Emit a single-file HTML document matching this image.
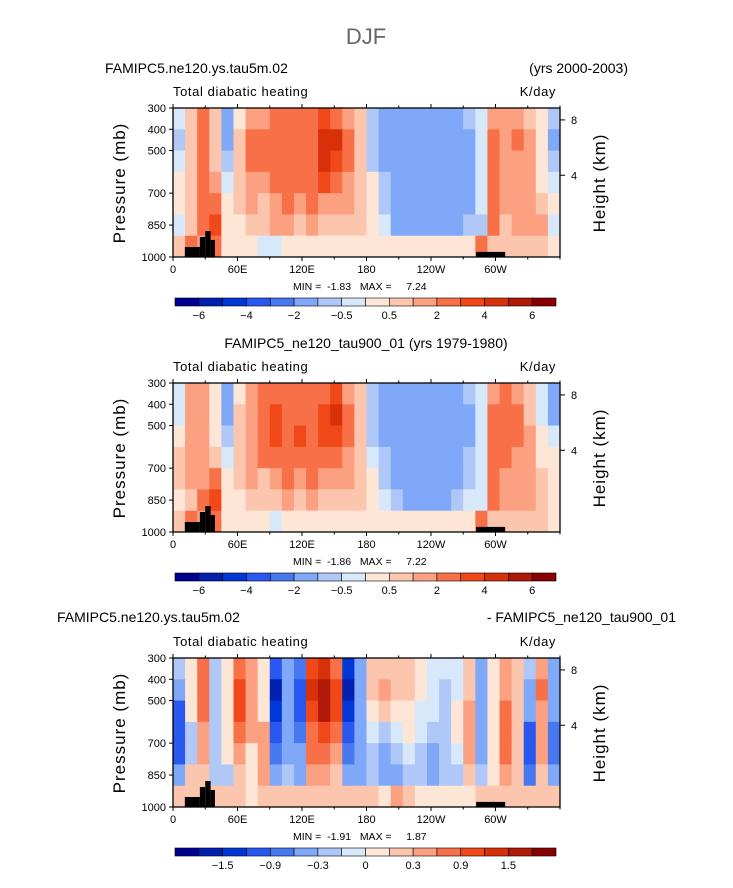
<!DOCTYPE html>
<html><head><meta charset="utf-8"><style>
html,body{margin:0;padding:0;background:#fff}
svg{display:block;font-family:"Liberation Sans",sans-serif}
</style></head><body>
<svg id="fig" width="733" height="888" viewBox="0 0 733 888">
<text x="366" y="44" text-anchor="middle" font-size="22" fill="#666" font-weight="300">DJF</text>
<text x="105" y="73" font-size="14">FAMIPC5.ne120.ys.tau5m.02</text>
<text x="628" y="73" font-size="14" text-anchor="end">(yrs 2000-2003)</text>
<text x="366" y="348" font-size="14" text-anchor="middle">FAMIPC5_ne120_tau900_01 (yrs 1979-1980)</text>
<text x="57" y="622" font-size="14">FAMIPC5.ne120.ys.tau5m.02</text>
<text x="676" y="622" font-size="14" text-anchor="end">- FAMIPC5_ne120_tau900_01</text>
</svg>
<script>
// ---- data ----
const lonEdges = [0,11.25,22.5,33.75,45,56.25,67.5,78.75,90,101.25,112.5,123.75,135,146.25,157.5,168.75,180,191.25,202.5,213.75,225,236.25,247.5,258.75,270,281.25,292.5,303.75,315,326.25,337.5,348.75,360];
const presEdges = [300,400,500,600,700,800,900,1000];
const levels1 = [-6,-5,-4,-3,-2,-1,-0.5,0,0.5,1,2,3,4,5,6];
const cbLabels1 = ["-6","","-4","","-2","","-0.5","","0.5","","2","","4","","6"];
const levels3 = [-1.8,-1.5,-1.2,-0.9,-0.6,-0.3,-0.15,0,0.15,0.3,0.6,0.9,1.2,1.5,1.8];
const cbLabels3 = ["","-1.5","","-0.9","","-0.3","","0","","0.3","","0.9","","1.5",""];
const palette = ["#00008f","#0020b0","#0038d8","#2858f0","#4878f0","#80a8f8","#b0c8f8","#d8e8fb","#fde6d6","#fcc6ae","#fba080","#f87048","#f04818","#d83008","#b01808","#880000"];
const xTickLon = [0,60,120,180,240,300];
const xTickLbl = ["0","60E","120E","180","120W","60W"];
const yTickP = [300,400,500,700,850,1000];
const hTickP = [356,616];
const hTickLbl = ["8","4"];
const data1 = [
[-0.3,0.7,2.5,0.7,-1.5,0.3,1.5,1.5,2,2.5,2,2.5,3.5,2.5,1.5,0.7,-0.7,-1.5,-1.5,-1.5,-1.5,-1.5,-1.5,-1.5,-0.7,-0.3,1.5,1.5,1.5,0.7,0.3,-0.7],
[-0.7,0.7,2.5,0.7,-1.5,0.7,2,2,2,2.5,2.5,2.5,4.5,4,2,0.7,-0.7,-1.5,-1.5,-1.5,-1.5,-1.5,-1.5,-1.5,-1.5,-0.3,2,1.5,2,1.5,0.3,-1.5],
[-0.3,0.7,2.5,0.7,-0.7,0.7,2,2,2,2.5,2.5,2.5,4.5,3.5,2,0.7,-0.7,-1.5,-1.5,-1.5,-1.5,-1.5,-1.5,-1.5,-1.5,-0.3,2,1.5,1.5,1.5,0.3,-0.7],
[0.3,0.7,2.5,1.5,-0.3,0.7,1.5,1.5,2,2.5,2,2.5,3,2.5,1.5,0.7,0.3,-0.7,-1.5,-1.5,-1.5,-1.5,-1.5,-1.5,-1.5,-0.3,2,1.5,1.5,1.5,0.3,-0.3],
[0.3,0.7,2.5,2.5,0.3,0.7,1.5,0.7,1.5,2.5,1.5,2,1.5,1.5,1.5,0.7,0.3,-0.7,-1.5,-1.5,-1.5,-1.5,-1.5,-1.5,-1.5,-0.3,2.5,1.5,1.5,1.5,0.7,0.3],
[-0.3,0.7,2.5,3.5,0.3,0.3,0.7,0.7,1,1.5,0.7,1.5,0.7,0.7,0.7,0.7,0.3,-0.3,-1.5,-1.5,-1.5,-1.5,-1.5,-1.5,-0.7,-0.7,2.5,0.7,1.5,1.5,1.5,-0.3],
[0.7,2.5,1.5,2,0.3,0.3,0.3,-0.3,-0.3,0.3,0.3,0.3,0.3,0.3,0.3,0.3,0.3,0.3,0.3,0.3,0.3,0.3,0.3,0.3,0.3,2.5,0.7,0.7,0.7,0.7,0.7,0.3]];
const data2 = [
[-0.3,1.5,1.5,0.3,-1.5,0.3,1.5,2,2.5,2.5,2,2.5,2.5,3,1.5,0.7,-0.7,-1.5,-1.5,-1.5,-1.5,-1.5,-1.5,-1.5,-0.7,-0.3,1.5,2,1.5,0.7,-0.3,-1.5],
[-0.3,1.5,1.5,0.3,-1.5,0.7,1.5,2.5,3.5,2.5,2.5,2.5,3,4,2,0.7,-0.7,-1.5,-1.5,-1.5,-1.5,-1.5,-1.5,-1.5,-1.5,-0.3,2.5,2.5,2,0.7,-0.3,-1.5],
[0.3,1.5,1.5,0.3,-0.7,0.7,1.5,2.5,3,2.5,3,2.5,3,3.5,2,0.7,-0.7,-1.5,-1.5,-1.5,-1.5,-1.5,-1.5,-1.5,-1.5,-0.3,2.5,2,2,1.5,0.3,-0.3],
[0.7,1.5,1.5,0.7,-0.3,0.7,1.5,2,2.5,2.5,2.5,2,2.5,2.5,1.5,0.7,-0.3,-0.7,-1.5,-1.5,-1.5,-1.5,-1.5,-1.5,-0.7,-0.3,2,2,1.5,1.5,0.3,0.3],
[0.7,1.5,1.5,2,0.3,0.7,1.5,0.7,1.5,2,1.5,2,1.5,1.5,1.5,0.7,0.3,-0.7,-1.5,-1.5,-1.5,-1.5,-1.5,-1.5,-0.7,-0.3,2.5,1.5,1.5,1.5,0.7,0.3],
[0.3,0.7,2.5,3.5,0.3,0.3,0.7,0.7,0.7,1.5,0.7,1.5,0.7,0.7,0.7,0.7,0.3,-0.3,-0.7,-1.5,-1.5,-1.5,-1.5,-0.7,-0.3,-0.3,2.5,1.5,1.5,1.5,0.7,0.3],
[0.7,2.5,1.5,2,0.3,0.3,0.3,0.3,-0.3,0.3,0.3,0.3,0.3,0.3,0.3,0.3,0.3,0.3,0.3,0.3,0.3,0.3,0.3,0.3,0.3,2.5,0.7,0.7,0.7,0.7,0.7,0.3]];
const data3 = [
[-0.2,0.1,0.7,-0.2,0.1,0.7,0.4,0.1,-1,-0.4,-0.7,1,1.3,0.7,-1.3,-0.4,0.2,0.2,0.2,0.2,0.1,-0.1,-0.1,-0.1,0.2,-0.4,0.1,0.4,0.2,-0.2,0.4,-0.4],
[-0.4,0.1,0.7,-0.2,0.1,1,0.4,0.1,-1.6,-0.4,-1,1.3,1.6,1,-1.6,-0.4,0.2,0.4,0.2,0.2,0.1,-0.1,-0.2,-0.1,0.2,-0.4,0.1,0.4,0.2,-0.4,0.7,-0.4],
[-1,0.1,0.7,-0.2,0.1,1,0.4,0.1,-1.3,-0.4,-1,1,1.6,1,-1.3,-0.4,0.1,0.2,0.1,0.1,-0.1,-0.1,-0.2,0.1,0.4,-0.4,0.1,0.7,0.2,-0.4,0.4,-0.4],
[-1,-0.2,0.4,-0.2,0.1,0.7,0.4,0.4,-1,-0.4,-0.7,0.7,1,0.7,-1,-0.4,-0.1,-0.2,-0.1,0.1,-0.1,-0.2,-0.2,0.1,0.4,-0.4,0.1,0.7,0.2,-1,0.4,-0.7],
[-1,-0.2,0.4,-0.2,0.1,0.4,0.1,0.4,-0.7,-0.4,-0.4,0.7,0.7,0.4,-0.7,-0.4,-0.2,-0.4,-0.2,-0.1,-0.2,-0.4,-0.2,-0.1,0.4,-0.4,0.1,0.7,0.2,-1,0.4,-0.7],
[-0.4,0.2,0.2,-0.2,-0.2,0.2,0.1,0.4,-0.4,-0.2,-0.4,0.4,0.4,0.2,-0.4,-0.4,-0.2,-0.4,-0.4,-0.2,-0.2,-0.4,-0.2,-0.2,0.2,-0.2,0.1,0.4,0.2,-0.7,0.2,-0.4],
[0.2,0.2,0.2,0.2,0.2,0.2,0.1,0.2,0.2,0.2,0.2,0.2,0.2,0.2,0.2,0.2,0.2,0.1,0.4,0.2,0.1,0.1,0.1,0.1,0.1,0.2,0.2,0.2,0.2,0.2,0.2,0.2]];
const minmax = [["-1.83","7.24"],["-1.86","7.22"],["-1.91","1.87"]];
// land mask steps [lonStart, lonEnd, topPressure]
const mask = [[11,25,953],[25,30,906],[30,35,878],[35,39,920],[282,309,976]];

// ---- drawing ----
const NS="http://www.w3.org/2000/svg";
const svg=document.getElementById('fig');
const X0=173,X1=560,Y0=108,Y1=257;
function mk(tag,attrs,parent){const e=document.createElementNS(NS,tag);for(const k in attrs)e.setAttribute(k,attrs[k]);(parent||svg).appendChild(e);return e;}
function color(v,lv){let i=0;while(i<lv.length&&v>=lv[i])i++;return palette[i];}
function drawPanel(p,dat,lv,cbl,mm){
  const off=p*275;
  const g=mk('g',{});
  
  
  const xs=lon=>X0+(X1-X0)*lon/360;
  const ys=pr=>off+Y0+(Y1-Y0)*(pr-300)/700;
  for(let r=0;r<dat.length;r++)for(let c=0;c<dat[r].length;c++){
    const x=xs(lonEdges[c]),y=ys(presEdges[r]);
    const cell=mk('rect',{x:x,y:y,width:xs(lonEdges[c+1])-x+0.5,height:ys(presEdges[r+1])-y+0.5,fill:color(dat[r][c],lv)},g);
    
    
  }
  for(const m of mask){
    const b=mk('rect',{x:xs(m[0]),y:ys(m[2]),width:xs(m[1])-xs(m[0]),height:ys(1000)-ys(m[2]),fill:'#000'},g);
    
    
  }
  const fr=mk('rect',{x:X0,y:ys(300),width:X1-X0,height:ys(1000)-ys(300),fill:'none',stroke:'#000','stroke-width':1.3},g);
  
  
  for(let l=0;l<=360;l+=30){
    const major=xTickLon.indexOf(l)>=0;const L=major?4:2.5;
    mk('line',{x1:xs(l),x2:xs(l),y1:ys(300),y2:ys(300)-L,stroke:'#000'},g);
    mk('line',{x1:xs(l),x2:xs(l),y1:ys(1000),y2:ys(1000)+L,stroke:'#000'},g);
  }
  xTickLon.forEach((l,i)=>{const t=mk('text',{x:xs(l),y:ys(1000)+16,'font-size':11,'text-anchor':'middle'},g);t.textContent=xTickLbl[i];
    
    });
  yTickP.forEach(pr=>{mk('line',{x1:X0,x2:X0-4,y1:ys(pr),y2:ys(pr),stroke:'#000'},g);
    const t=mk('text',{x:X0-7,y:ys(pr)+4,'font-size':11,'text-anchor':'end'},g);t.textContent=pr;
    
    });
  hTickP.forEach((pr,i)=>{mk('line',{x1:X1,x2:X1+5,y1:ys(pr),y2:ys(pr),stroke:'#000'},g);
    const t=mk('text',{x:X1+11,y:ys(pr)+4,'font-size':11},g);t.textContent=hTickLbl[i];
    
    });
  let t=mk('text',{x:X0,y:off+96,'font-size':13,'letter-spacing':'0.6'},g);t.textContent='Total diabatic heating';
  
  
  t=mk('text',{x:X1-4,y:off+96,'font-size':13,'text-anchor':'end','letter-spacing':'0.6'},g);t.textContent='K/day';
  
  
  t=mk('text',{x:0,y:0,'font-size':17,'text-anchor':'middle','letter-spacing':'1',transform:`translate(125,${off+183}) rotate(-90)`},g);t.textContent='Pressure (mb)';
  
  
  t=mk('text',{x:0,y:0,'font-size':17,'text-anchor':'middle','letter-spacing':'1',transform:`translate(605,${off+183}) rotate(-90)`},g);t.textContent='Height (km)';
  
  
  t=mk('text',{x:293,y:off+290,'font-size':10.5},g);t.textContent='MIN =  '+mm[0]+'   MAX =     '+mm[1];
  t.style.whiteSpace='pre';
  
  
  // colorbar
  const cx0=175,cx1=556,cy=off+298,w=(cx1-cx0)/16;
  palette.forEach((col,i)=>{const r=mk('rect',{x:cx0+i*w,y:cy,width:w,height:8,fill:col,stroke:'#000','stroke-width':0.6},g);
    
    });
  cbl.forEach((s,i)=>{if(!s)return;const tt=mk('text',{x:cx0+(i+1)*w,y:cy+21,'font-size':11,'text-anchor':'middle'},g);tt.textContent=s.replace('-','\u2212');
    
    });
}
drawPanel(0,data1,levels1,cbLabels1,minmax[0]);
drawPanel(1,data2,levels1,cbLabels1,minmax[1]);
drawPanel(2,data3,levels3,cbLabels3,minmax[2]);
</script>
</body></html>
